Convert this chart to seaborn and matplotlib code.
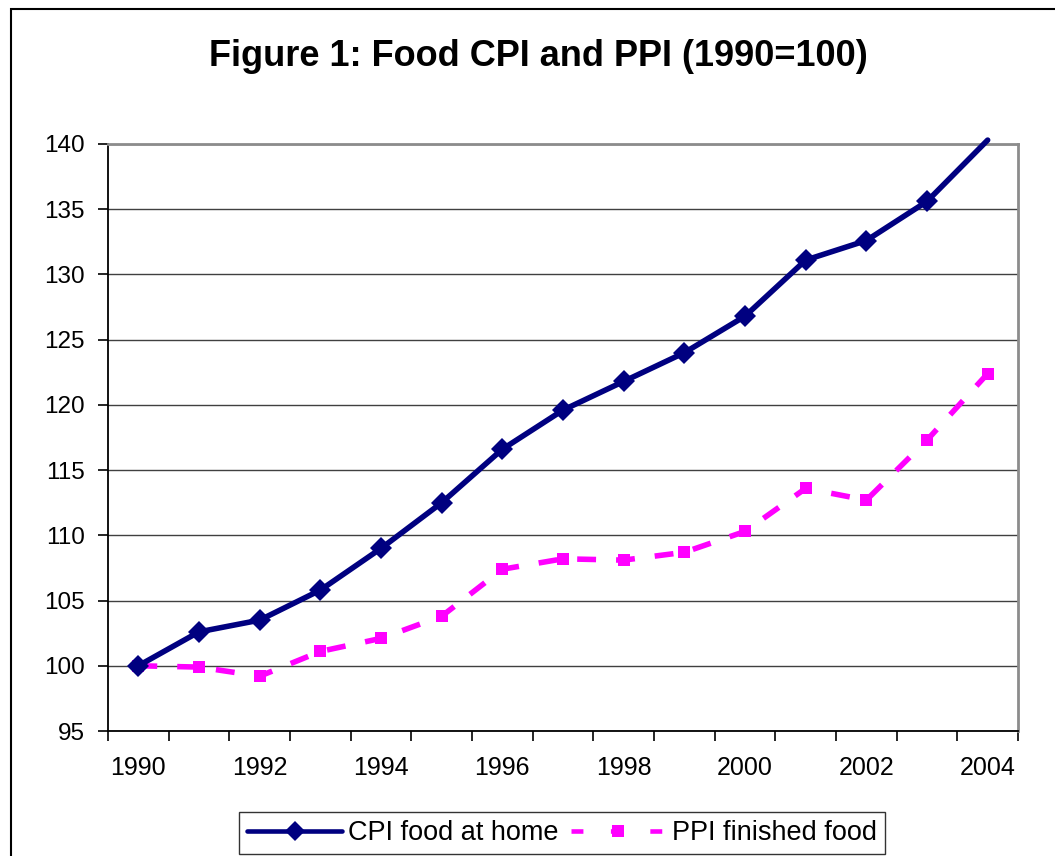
import pandas as pd
import numpy as np
import matplotlib.pyplot as plt
import seaborn as sns
from matplotlib.patches import Rectangle
from matplotlib.lines import Line2D

# Dane
years = list(range(1990, 2005))
cpi_food_home = [100.0, 102.6, 103.5, 105.8, 109.0, 112.5, 116.6, 119.6,
                 121.8, 124.0, 126.8, 131.1, 132.6, 135.6, 140.3]
ppi_finished_food = [100.0, 99.9, 99.2, 101.1, 102.1, 103.8, 107.4, 108.2,
                     108.1, 108.7, 110.3, 113.6, 112.7, 117.3, 122.4]
y_ticks = [95, 100, 105, 110, 115, 120, 125, 130, 135, 140]

df = pd.DataFrame({
    'pos': np.arange(len(years)),
    'CPI food at home': cpi_food_home,
    'PPI finished food': ppi_finished_food,
})

sns.set_style('white')
plt.rcParams['font.family'] = ['Liberation Sans', 'DejaVu Sans']
plt.rcParams['text.color'] = 'black'
plt.rcParams['xtick.color'] = 'black'
plt.rcParams['ytick.color'] = 'black'

fig = plt.figure(figsize=(10.55, 8.56), dpi=100)
ax = fig.add_axes([108 / 1055, 1 - 731 / 856, 910 / 1055, 587 / 856])

navy = '#000080'
magenta = '#FF00FF'

# --- Linie ---
sns.lineplot(data=df, x='pos', y='CPI food at home', ax=ax, color=navy,
             linewidth=4.0, marker='D', markersize=11, markeredgewidth=0,
             markevery=list(range(len(years) - 1)), clip_on=False, zorder=4)
sns.lineplot(data=df, x='pos', y='PPI finished food', ax=ax, color=magenta,
             linewidth=4.0, marker='s', markersize=9, markeredgewidth=0,
             zorder=3)
ax.lines[1].set_dashes([3.4, 3.6])

# --- Osie ---
ax.set_xlim(-0.5, len(years) - 0.5)
ax.set_ylim(95, 140)
ax.set_yticks(y_ticks)
ax.set_yticklabels([str(t) for t in y_ticks], fontsize=17.5)
ax.set_xticks(np.arange(-0.5, len(years), 1.0))
ax.set_xticklabels([])
ax.set_xticks(np.arange(0, len(years), 2), minor=True)
ax.set_xticklabels([str(years[i]) for i in range(0, len(years), 2)],
                   minor=True, fontsize=18)
ax.tick_params(axis='x', which='major', direction='out', length=7,
               width=1.2, color='black', bottom=True)
ax.tick_params(axis='x', which='minor', length=0, pad=18)
ax.tick_params(axis='y', direction='out', length=7, width=1.2,
               color='black', left=True, pad=9.5)
ax.set_xlabel('')
ax.set_ylabel('')

ax.grid(axis='y', color='#404040', linewidth=1.0)
ax.set_axisbelow(True)
for side in ['top', 'right']:
    ax.spines[side].set_color('#8c8c8c')
    ax.spines[side].set_linewidth(2.0)
for side in ['left', 'bottom']:
    ax.spines[side].set_color('black')
    ax.spines[side].set_linewidth(1.3)
if ax.get_legend() is not None:
    ax.get_legend().remove()

fig.text(538 / 1055, 1 - 57 / 856, 'Figure 1: Food CPI and PPI (1990=100)',
         ha='center', va='center', fontsize=26, fontweight='bold')

# --- Legenda ---
handles = [
    Line2D([], [], color=navy, linewidth=3.3, marker='D', markersize=10,
           markeredgewidth=0),
    Line2D([], [], color=magenta, linewidth=3.3, marker='s', markersize=8,
           markeredgewidth=0, dashes=[2.6, 6.0]),
]
leg = fig.legend(handles, ['CPI food at home', 'PPI finished food'],
                 loc='center', bbox_to_anchor=(562 / 1055, 1 - 833 / 856),
                 ncol=2, fontsize=19.5, frameon=True, fancybox=False,
                 handlelength=3.5, handletextpad=0.22, columnspacing=0.45,
                 borderpad=0.3, borderaxespad=0, edgecolor='black')
leg.get_frame().set_linewidth(1.0)

fig.patches.append(Rectangle((11 / 1055, -0.1), 1.2, 1.1 - 9 / 856,
                             transform=fig.transFigure, fill=False,
                             edgecolor='black', linewidth=1.5))

plt.savefig('out.png', dpi=100)
